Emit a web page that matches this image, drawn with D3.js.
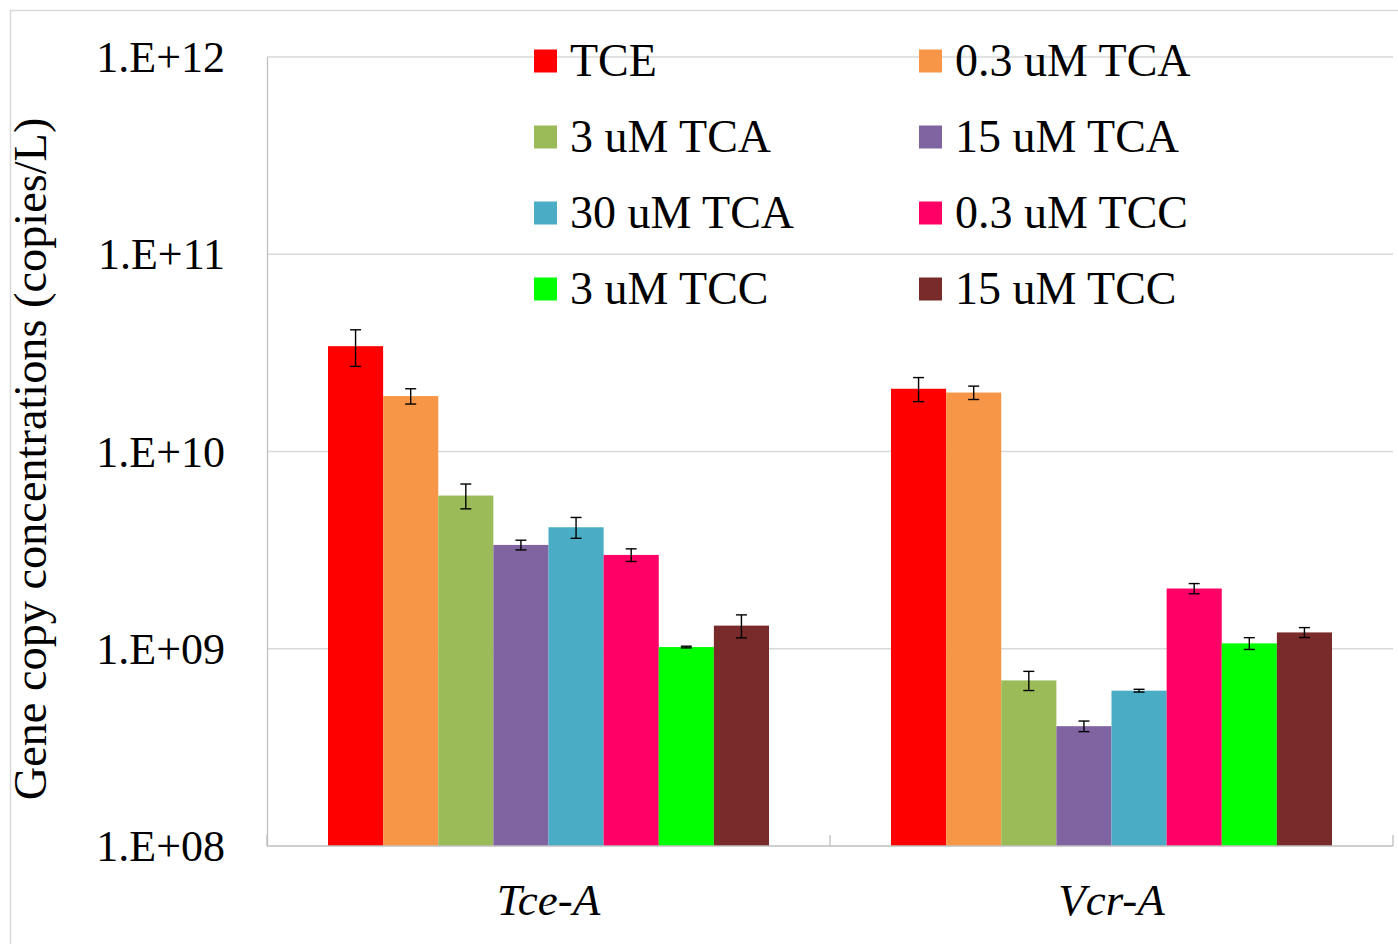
<!DOCTYPE html>
<html><head><meta charset="utf-8">
<script src="https://cdn.jsdelivr.net/npm/d3@7"></script>
<style>
html,body{margin:0;padding:0;background:#fff;}
svg{display:block;font-family:"Liberation Serif","Times New Roman",serif;}
</style></head>
<body>
<svg id="chart" width="1398" height="944"></svg>
<script>
const categories = ["Tce-A", "Vcr-A"];
const seriesNames = ["TCE", "0.3 uM TCA", "3 uM TCA", "15 uM TCA", "30 uM TCA", "0.3 uM TCC", "3 uM TCC", "15 uM TCC"];
const seriesColors = ["#FF0000", "#F79646", "#9BBB59", "#8064A2", "#4BACC6", "#FF0066", "#00FF00", "#782B2A"];
// values per series: [Tce-A, Vcr-A]
const TCE       = [3.42e10, 2.08e10];
const TCA_0_3   = [1.91e10, 1.99e10];
const TCA_3     = [5.98e9, 6.91e8];
const TCA_15    = [3.36e9, 4.05e8];
const TCA_30    = [4.13e9, 6.13e8];
const TCC_0_3   = [2.99e9, 2.02e9];
const TCC_3     = [1.02e9, 1.065e9];
const TCC_15    = [1.31e9, 1.21e9];
// error (± linear)
const TCE_err     = [0.72e10, 0.29e10];
const TCA_0_3_err = [0.17e10, 0.155e10];
const TCA_3_err   = [0.86e9, 0.77e8];
const TCA_15_err  = [0.19e9, 0.25e8];
const TCA_30_err  = [0.5e9, 0.1e8];
const TCC_0_3_err = [0.22e9, 0.12e9];
const TCC_3_err   = [0.01e9, 0.073e9];
const TCC_15_err  = [0.175e9, 0.07e9];
const yTickValues = [1e8, 1e9, 1e10, 1e11, 1e12];
const yTickLabels = ["1.E+08", "1.E+09", "1.E+10", "1.E+11", "1.E+12"];
const yTitle = "Gene copy concentrations (copies/L)";

const values = [TCE, TCA_0_3, TCA_3, TCA_15, TCA_30, TCC_0_3, TCC_3, TCC_15];
const errors = [TCE_err, TCA_0_3_err, TCA_3_err, TCA_15_err, TCA_30_err, TCC_0_3_err, TCC_3_err, TCC_15_err];

const svg = d3.select("#chart");
const L = 267, R = 1393, T = 57, B = 846;

// outer border
svg.append("rect").attr("x", 10.5).attr("y", 10.5).attr("width", 1400).attr("height", 950)
  .attr("fill", "none").attr("stroke", "#d9d9d9").attr("stroke-width", 1.5);

const y = d3.scaleLog().domain([1e8, 1e12]).range([B, T]);
const p = 0.2167;
const x0 = d3.scaleBand().domain(categories).range([L, R]).paddingInner(p).paddingOuter(p / 2);
const x1 = d3.scaleBand().domain(seriesNames).range([0, x0.bandwidth()]);

// gridlines
svg.append("g").selectAll("line").data(yTickValues.slice(1)).join("line")
  .attr("x1", L).attr("x2", R).attr("y1", d => y(d)).attr("y2", d => y(d))
  .attr("stroke", "#d9d9d9").attr("stroke-width", 1.3);

// y axis
const yAxis = d3.axisLeft(y).tickValues(yTickValues).tickFormat((d, i) => yTickLabels[i]).tickSize(0).tickPadding(42);
const gy = svg.append("g").attr("transform", `translate(${L},0)`).call(yAxis);
gy.select(".domain").attr("stroke", "#bfbfbf").attr("stroke-width", 1.3);
gy.selectAll("text").attr("font-size", 44).attr("fill", "#000").attr("dy", "0.33em")
  .attr("font-family", '"Liberation Serif","Times New Roman",serif');

// bars
const groups = svg.append("g").selectAll("g").data(categories).join("g")
  .attr("transform", d => `translate(${x0(d)},0)`);
groups.selectAll("rect").data((c, ci) => seriesNames.map((s, si) => ({s, si, v: values[si][ci], e: errors[si][ci]})))
  .join("rect")
  .attr("x", d => x1(d.s)).attr("width", x1.bandwidth())
  .attr("y", d => y(d.v)).attr("height", d => y(1e8) - y(d.v))
  .attr("fill", d => seriesColors[d.si]);

// error bars
const eb = groups.selectAll("g.err").data((c, ci) => seriesNames.map((s, si) => ({s, si, v: values[si][ci], e: errors[si][ci]})))
  .join("g").attr("class", "err")
  .attr("stroke", "#000").attr("stroke-width", 1.4);
const cx = d => x1(d.s) + x1.bandwidth() / 2;
eb.append("line").attr("x1", cx).attr("x2", cx).attr("y1", d => y(d.v + d.e)).attr("y2", d => y(d.v - d.e));
eb.append("line").attr("x1", d => cx(d) - 5.5).attr("x2", d => cx(d) + 5.5).attr("y1", d => y(d.v + d.e)).attr("y2", d => y(d.v + d.e));
eb.append("line").attr("x1", d => cx(d) - 5.5).attr("x2", d => cx(d) + 5.5).attr("y1", d => y(d.v - d.e)).attr("y2", d => y(d.v - d.e));

// x axis
svg.append("line").attr("x1", L).attr("x2", R).attr("y1", B).attr("y2", B).attr("stroke", "#bfbfbf").attr("stroke-width", 1.3);
const bounds = [L, x0(categories[1]) - x0.step() * p / 2, R];
svg.append("g").selectAll("line").data(bounds).join("line")
  .attr("x1", d => d).attr("x2", d => d).attr("y1", B).attr("y2", B - 11)
  .attr("stroke", "#bfbfbf").attr("stroke-width", 1.3);
svg.append("g").selectAll("text").data(categories).join("text")
  .attr("x", d => x0(d) + x0.bandwidth() / 2).attr("y", 915)
  .attr("text-anchor", "middle").attr("font-size", 45).attr("font-style", "italic").text(d => d);

// y title
svg.append("text").attr("transform", "translate(46,459) rotate(-90)")
  .attr("text-anchor", "middle").attr("font-size", 46.3).text(yTitle);

// legend
const leg = svg.append("g").selectAll("g").data(seriesNames).join("g")
  .attr("transform", (d, i) => `translate(${i % 2 === 0 ? 534 : 919},${61 + Math.floor(i / 2) * 76})`);
leg.append("rect").attr("x", 0).attr("y", -11.5).attr("width", 23).attr("height", 23)
  .attr("fill", (d, i) => seriesColors[i]);
leg.append("text").attr("x", 36).attr("y", 15).attr("font-size", 46).text(d => d);
</script>
</body></html>
